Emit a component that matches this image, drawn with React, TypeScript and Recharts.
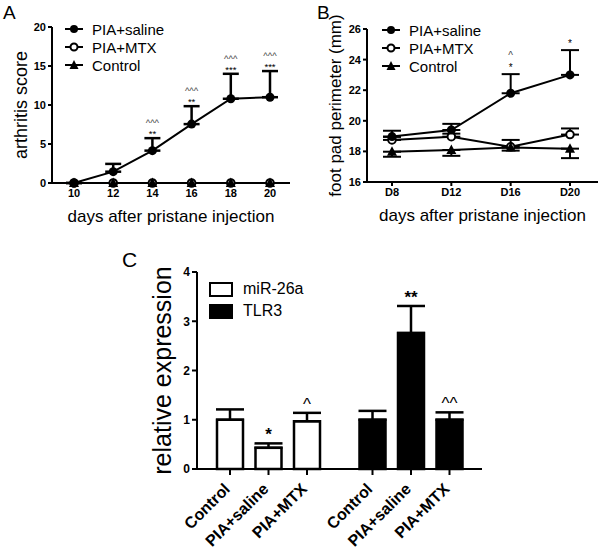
import React from 'react'
import { LineChart, Line, XAxis, YAxis, Legend, LabelList, ErrorBar, BarChart, Bar, Cell } from 'recharts'

const FONT = '"Liberation Sans", Arial, Helvetica, sans-serif'

// panel A - arthritis score
const daysA = [10, 12, 14, 16, 18, 20]
const salineA = [0, 1.45, 4.15, 7.55, 10.8, 11.0]
const salineErrA = [0, 1.0, 1.6, 2.3, 3.2, 3.35]
const mtxA = [0, 0, 0, 0, 0, 0]
const controlA = [0, 0, 0, 0, 0, 0]
const starsA = ['', '', '**', '**', '***', '***']
const caretsA = ['', '', '^^^', '^^^', '^^^', '^^^']
const yTicksA = [0, 5, 10, 15, 20]

// panel B - foot pad perimeter
const daysB = [8, 12, 16, 20]
const salineB = [18.97, 19.4, 21.8, 23.0]
const salineErrB = [0.38, 0.4, 1.25, 1.62]
const mtxB = [18.75, 18.96, 18.3, 19.1]
const mtxErrB = [0.2, 0.2, 0.45, 0.4]
const controlB = [17.98, 18.09, 18.25, 18.18]
const controlErrB = [0.33, 0.38, 0.2, 0.62]
const starsB = ['', '', '*', '*']
const caretsB = ['', '', '^', '']
const yTicksB = [16, 18, 20, 22, 24, 26]

// panel C - relative expression
const genes = ['miR-26a', 'TLR3']
const groupsC = ['Control', 'PIA+saline', 'PIA+MTX']
const controlC = [1.0, 1.0]
const controlErrC = [0.21, 0.18]
const salineC = [0.43, 2.76]
const salineErrC = [0.09, 0.55]
const mtxC = [0.97, 1.0]
const mtxErrC = [0.17, 0.15]
const marksC = [['', ''], ['*', '**'], ['^', '^^']]
const yTicksC = [0, 1, 2, 3, 4]

const dataA = daysA.map((d, i) => ({
  day: d, saline: salineA[i], salineErr: [0, salineErrA[i]], mtx: mtxA[i], control: controlA[i],
  top: salineA[i] + salineErrA[i],
}))

const dataB = daysB.map((d, i) => ({
  day: d, saline: salineB[i], salineErr: [0, salineErrB[i]],
  mtx: mtxB[i], mtxErr: [0, mtxErrB[i]],
  control: controlB[i], controlErr: [controlErrB[i], 0],
  top: salineB[i] + salineErrB[i],
}))

const dataC = genes.map((g, i) => ({
  gene: g,
  control: controlC[i], controlErr: [0, controlErrC[i]],
  saline: salineC[i], salineErr: [0, salineErrC[i]],
  mtx: mtxC[i], mtxErr: [0, mtxErrC[i]],
}))

const filledDot = (p: any) => p.cx == null ? <g key={p.key} /> : <circle key={p.key} cx={p.cx} cy={p.cy} r={4.5} fill="#000" />
const openDot = (p: any) => p.cx == null ? <g key={p.key} /> : <circle key={p.key} cx={p.cx} cy={p.cy} r={3.8} fill="#fff" stroke="#000" strokeWidth={2} />
const triDot = (p: any) => p.cx == null ? <g key={p.key} /> : (
  <polygon key={p.key} points={`${p.cx},${p.cy - 5.5} ${p.cx - 5},${p.cy + 4} ${p.cx + 5},${p.cy + 4}`} fill="#000" />
)

const legendItems = [
  { name: 'PIA+saline', kind: 'filled' },
  { name: 'PIA+MTX', kind: 'open' },
  { name: 'Control', kind: 'tri' },
]

const LineLegend = () => (
  <div style={{ fontFamily: FONT, fontSize: 15, color: '#000' }}>
    {legendItems.map(it => (
      <div key={it.name} style={{ display: 'flex', alignItems: 'center', height: 18 }}>
        <svg width={20} height={12} style={{ overflow: 'visible' }}>
          <line x1={1} y1={6} x2={19} y2={6} stroke="#000" strokeWidth={2} />
          {it.kind === 'filled' && <circle cx={10} cy={6} r={4} fill="#000" />}
          {it.kind === 'open' && <circle cx={10} cy={6} r={3.5} fill="#fff" stroke="#000" strokeWidth={2} />}
          {it.kind === 'tri' && <polygon points="10,1 5.5,10 14.5,10" fill="#000" />}
        </svg>
        <span style={{ marginLeft: 8 }}>{it.name}</span>
      </div>
    ))}
  </div>
)

const BarLegend = () => (
  <div style={{ fontFamily: FONT, fontSize: 16, color: '#000' }}>
    {genes.map((g, i) => (
      <div key={g} style={{ display: 'flex', alignItems: 'center', height: 22 }}>
        <div style={{ width: 20, height: 11, border: '2.5px solid #000', background: i === 0 ? '#fff' : '#000' }} />
        <span style={{ marginLeft: 10 }}>{g}</span>
      </div>
    ))}
  </div>
)

// carets stacked over stars above the upper error cap
const makeMarks = (stars: string[], carets: string[], fs: number, starGap: number, lineGap: number) => (props: any) => {
  const { index } = props
  const vb = props.viewBox || props
  const x = vb.x + (vb.width || 0) / 2
  const y = vb.y
  const s = stars[index]
  const c = carets[index]
  if (!s && !c) return null
  return (
    <g key={`m-${index}`} fontSize={fs} textAnchor="middle">
      {c && <text x={x} y={y - starGap - lineGap} fill="#444">{c}</text>}
      {s && <text x={x} y={y - starGap} fill="#000">{s}</text>}
    </g>
  )
}

const makeBarLabel = (gi: number, means: number[], errs: number[]) => (props: any) => {
  const { index } = props
  const vb = props.viewBox || props
  const cx = vb.x + vb.width / 2
  const bottom = vb.y + vb.height
  const errTop = vb.y - errs[index] * (vb.height / means[index])
  const mark = marksC[gi][index]
  const tx = cx + 1
  const ty = bottom + 21
  return (
    <g key={`b-${gi}-${index}`}>
      <line x1={cx} y1={bottom} x2={cx} y2={bottom + 6} stroke="#000" strokeWidth={2} />
      <text x={tx} y={ty} transform={`rotate(-45 ${tx} ${ty})`} textAnchor="end" fontSize={16} fontWeight="bold" fill="#000">
        {groupsC[gi]}
      </text>
      {mark && (
        <text x={cx} y={errTop - 3} textAnchor="middle" fontSize={17} fontWeight={mark.startsWith('*') ? 'bold' : 'normal'} fill="#000">
          {mark}
        </text>
      )}
    </g>
  )
}

const axisLine = { stroke: '#000', strokeWidth: 2 }
const tickFont = { fill: '#000', fontSize: 11, fontWeight: 'bold' }

export default function App() {
  return (
    <div style={{ position: 'absolute', left: 0, top: 0, width: 600, height: 550, background: '#fff', fontFamily: FONT, overflow: 'hidden' }}>
      <div style={{ position: 'absolute', left: 3, top: 2.5, fontSize: 19, lineHeight: '19px' }}>A</div>
      <div style={{ position: 'absolute', left: 317, top: 2.5, fontSize: 19, lineHeight: '19px' }}>B</div>
      <div style={{ position: 'absolute', left: 122, top: 249, fontSize: 21, lineHeight: '21px' }}>C</div>

      <div style={{ position: 'absolute', left: 0, top: 0 }}>
        <LineChart width={300} height={232} data={dataA} margin={{ top: 27, right: 10, bottom: 9, left: 0 }}>
          <XAxis dataKey="day" type="number" domain={[10, 20]} ticks={daysA} padding={{ left: 22, right: 20 }}
            height={40} tickSize={4} axisLine={axisLine} tickLine={axisLine} tick={tickFont}
            label={{ value: 'days after pristane injection', position: 'insideBottom', offset: 1, fill: '#000', fontSize: 17 }} />
          <YAxis type="number" domain={[0, 20]} ticks={yTicksA} width={52} tickSize={4} axisLine={axisLine} tickLine={axisLine}
            tick={tickFont}
            label={{ value: 'arthritis score', angle: -90, position: 'insideLeft', offset: 21, fill: '#000', fontSize: 18, style: { textAnchor: 'middle' } }} />
          <Legend layout="vertical" align="center" verticalAlign="middle" content={LineLegend}
            wrapperStyle={{ left: 64, top: 20, width: 'auto', height: 'auto' }} />
          <Line dataKey="mtx" stroke="#000" strokeWidth={2} dot={openDot} activeDot={false} isAnimationActive={false} />
          <Line dataKey="control" stroke="#000" strokeWidth={2} dot={triDot} activeDot={false} isAnimationActive={false} />
          <Line dataKey="saline" stroke="#000" strokeWidth={2} dot={filledDot} activeDot={false} isAnimationActive={false}>
            <ErrorBar dataKey="salineErr" width={8} strokeWidth={2.5} stroke="#000" direction="y" />
          </Line>
          <Line dataKey="top" stroke="none" dot={false} activeDot={false} legendType="none" isAnimationActive={false}>
            <LabelList dataKey="top" content={makeMarks(starsA, caretsA, 9.5, 1, 11)} />
          </Line>
        </LineChart>
      </div>

      <div style={{ position: 'absolute', left: 300, top: 0 }}>
        <LineChart width={300} height={232} data={dataB} margin={{ top: 29, right: 2, bottom: 10, left: 0 }}>
          <XAxis dataKey="day" type="number" domain={[8, 20]} ticks={daysB} tickFormatter={(v) => `D${v}`}
            padding={{ left: 25, right: 28 }} height={40} tickSize={4} axisLine={axisLine} tickLine={axisLine} tick={tickFont}
            label={{ value: 'days after pristane injection', position: 'insideBottom', offset: 1, fill: '#000', fontSize: 17 }} />
          <YAxis type="number" domain={[16, 26]} ticks={yTicksB} width={67} tickSize={4} axisLine={axisLine} tickLine={axisLine}
            tick={tickFont}
            label={{ value: 'foot pad perimeter (mm)', angle: -90, position: 'insideLeft', offset: 35, fill: '#000', fontSize: 17, style: { textAnchor: 'middle' } }} />
          <Legend layout="vertical" align="center" verticalAlign="middle" content={LineLegend}
            wrapperStyle={{ left: 81, top: 21, width: 'auto', height: 'auto' }} />
          <Line dataKey="mtx" stroke="#000" strokeWidth={2} dot={openDot} activeDot={false} isAnimationActive={false}>
            <ErrorBar dataKey="mtxErr" width={9} strokeWidth={2} stroke="#000" direction="y" />
          </Line>
          <Line dataKey="control" stroke="#000" strokeWidth={2} dot={triDot} activeDot={false} isAnimationActive={false}>
            <ErrorBar dataKey="controlErr" width={9} strokeWidth={2} stroke="#000" direction="y" />
          </Line>
          <Line dataKey="saline" stroke="#000" strokeWidth={2} dot={filledDot} activeDot={false} isAnimationActive={false}>
            <ErrorBar dataKey="salineErr" width={9} strokeWidth={2} stroke="#000" direction="y" />
          </Line>
          <Line dataKey="top" stroke="none" dot={false} activeDot={false} legendType="none" isAnimationActive={false}>
            <LabelList dataKey="top" content={makeMarks(starsB, caretsB, 10, 3, 12)} />
          </Line>
        </LineChart>
      </div>

      <div style={{ position: 'absolute', left: 0, top: 240 }}>
        <BarChart width={600} height={310} data={dataC} margin={{ top: 32, right: 118, bottom: 70, left: 140 }}
          barSize={26} barGap={12.5}>
          <XAxis dataKey="gene" height={11} tick={false} tickLine={false} axisLine={axisLine} />
          <YAxis type="number" domain={[0, 4]} ticks={yTicksC} width={57} tickSize={5} axisLine={axisLine} tickLine={axisLine}
            tick={{ fill: '#000', fontSize: 12, fontWeight: 'bold' }}
            label={{ value: 'relative expression', angle: -90, position: 'insideLeft', offset: 22, fill: '#000', fontSize: 25, style: { textAnchor: 'middle' } }} />
          <Legend layout="vertical" align="center" verticalAlign="middle" content={BarLegend}
            wrapperStyle={{ left: 209, top: 38, width: 'auto', height: 'auto' }} />
          <Bar dataKey="control" stroke="#000" strokeWidth={2.5} isAnimationActive={false}>
            {genes.map((g, i) => <Cell key={g} fill={i === 0 ? '#fff' : '#000'} />)}
            <ErrorBar dataKey="controlErr" width={14} strokeWidth={2.5} stroke="#000" direction="y" />
            <LabelList dataKey="control" content={makeBarLabel(0, controlC, controlErrC)} />
          </Bar>
          <Bar dataKey="saline" stroke="#000" strokeWidth={2.5} isAnimationActive={false}>
            {genes.map((g, i) => <Cell key={g} fill={i === 0 ? '#fff' : '#000'} />)}
            <ErrorBar dataKey="salineErr" width={14} strokeWidth={2.5} stroke="#000" direction="y" />
            <LabelList dataKey="saline" content={makeBarLabel(1, salineC, salineErrC)} />
          </Bar>
          <Bar dataKey="mtx" stroke="#000" strokeWidth={2.5} isAnimationActive={false}>
            {genes.map((g, i) => <Cell key={g} fill={i === 0 ? '#fff' : '#000'} />)}
            <ErrorBar dataKey="mtxErr" width={14} strokeWidth={2.5} stroke="#000" direction="y" />
            <LabelList dataKey="mtx" content={makeBarLabel(2, mtxC, mtxErrC)} />
          </Bar>
        </BarChart>
      </div>
    </div>
  )
}
